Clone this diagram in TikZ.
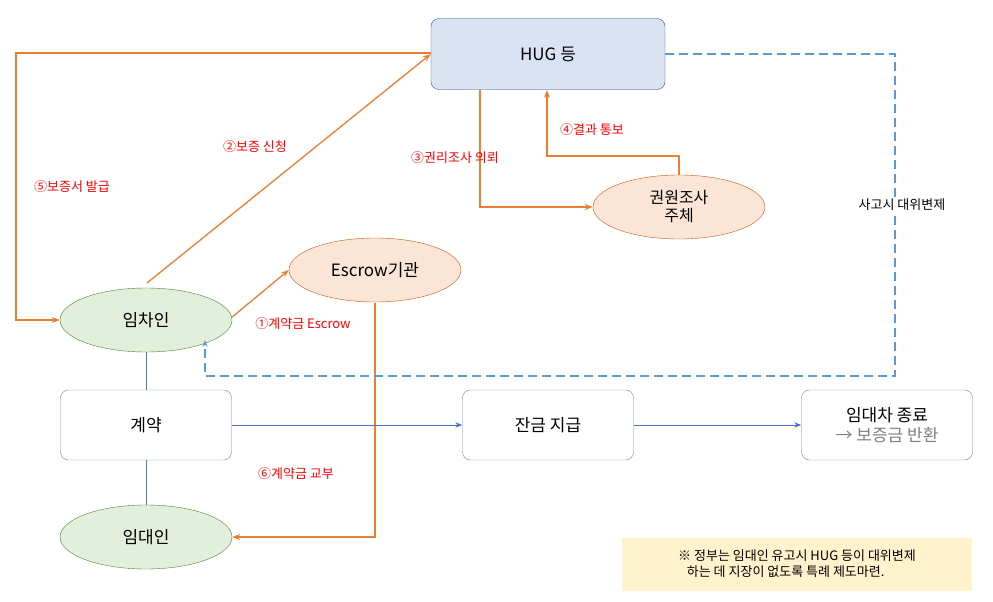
\documentclass[tikz,border=0pt]{standalone}
\usepackage{fontspec}
\setmainfont{Noto Sans CJK KR}
\usetikzlibrary{arrows.meta,shapes.geometric}
\definecolor{hugf}{RGB}{218,227,243}\definecolor{hugd}{RGB}{47,82,143}
\definecolor{pf}{RGB}{251,229,214}\definecolor{po}{RGB}{197,90,17}
\definecolor{gf}{RGB}{226,239,218}\definecolor{gd}{RGB}{84,130,53}
\definecolor{oa}{RGB}{237,125,49}\definecolor{bl}{RGB}{68,114,196}
\definecolor{dashc}{RGB}{91,155,213}\definecolor{yf}{RGB}{255,242,204}
\tikzset{x=1pt,y=-1pt,
 box/.style={draw=hugd!70,rounded corners=8pt,minimum width=171pt,minimum height=70pt,font=\fontsize{17}{20}\selectfont},
 ell/.style={ellipse,draw,minimum width=172pt,minimum height=64pt,font=\fontsize{17}{20}\selectfont,align=center},
 oar/.style={oa,line width=1.3pt,-{Stealth[length=8pt]}},
 bar/.style={bl,line width=0.8pt,-{Stealth[length=7pt]}},
 lab/.style={red,font=\fontsize{13}{15}\selectfont}}
\begin{document}
\begin{tikzpicture}
\useasboundingbox (0,0) rectangle (993,602);
\node[box,fill=hugf,draw=hugd,minimum width=234pt,minimum height=71pt] (hug) at (548,54) {HUG 등};
\node[ell,fill=pf,draw=po,inner sep=0pt,font=\fontsize{16}{18}\selectfont] (kw) at (679,207) {권원조사\\주체};
\node[ell,fill=pf,draw=po] (esc) at (375,270) {Escrow기관};
\node[ell,fill=gf,draw=gd] (ten) at (146,320) {임차인};
\node[box] (con) at (146,425) {계약};
\node[ell,fill=gf,draw=gd] (lan) at (146,537) {임대인};
\node[box] (pay) at (548,425) {잔금 지급};
\node[box,draw=gray,align=center,font=\fontsize{17}{20}\selectfont] (end) at (887,425) {임대차 종료\\\textcolor{gray}{→ 보증금 반환}};
\node[fill=yf,minimum width=350pt,minimum height=53pt,align=left,font=\fontsize{13}{16}\selectfont] (note) at (797,564) {※ 정부는 임대인 유고시 HUG 등이 대위변제\\\ \ \ 하는 데 지장이 없도록 특례 제도마련.};
% connectors
\draw[oar] (hug.west) ++(0,-1) -| (16,320) -- (ten.west);
\draw[oar] (147,283) -- (hug.west);
\draw[oar] (480,90) |- (kw.west);
\draw[oar] (kw.north) -- (679,156) -| (547,90);
\draw[oar] (ten.east) ++(0,-3) -- (esc.west);
\draw[oar] (375,303) |- (lan.east);
\draw[dashc,line width=1.2pt,dash pattern=on 9pt off 5pt,-{Stealth[length=7pt]}] (hug.east) -- (895,54) -- (895,376) -- (205,376) -- (205,340);
\node[fill=white,font=\fontsize{13}{15}\selectfont,inner sep=1pt] (acc) at (902,205) {사고시 대위변제};
\draw[bl!60!gray,line width=0.8pt] (ten.south) -- (con.north);
\draw[bl!60!gray,line width=0.8pt] (con.south) -- (lan.north);
\draw[bar] (con.east) -- (pay.west);
\draw[bar] (pay.east) -- (end.west);
% labels
\node[lab] (l2) at (255,147) {②보증 신청};
\node[lab] (l5) at (72,187) {⑤보증서 발급};
\node[lab] (l3) at (455,158) {③권리조사 의뢰};
\node[lab] (l4) at (592,130) {④결과 통보};
\node[lab] (l1) at (303,324) {①계약금 Escrow};
\node[lab] (l6) at (296,474) {⑥계약금 교부};
\end{tikzpicture}
\end{document}
